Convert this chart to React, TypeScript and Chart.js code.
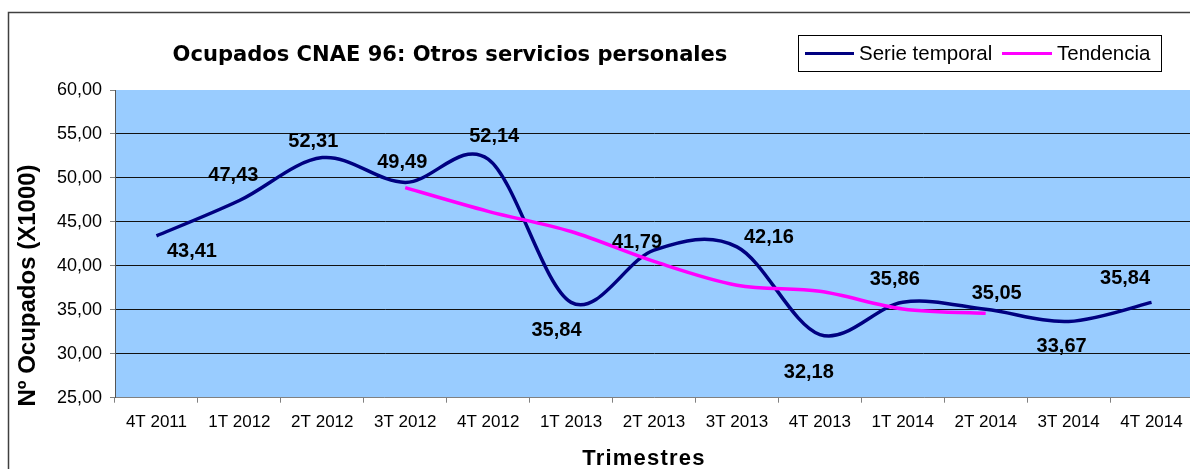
import React, { useEffect, useRef } from 'react';
import { Chart, registerables } from 'chart.js';

Chart.register(...registerables);

// ---- Data ----
const categories = [
  '4T 2011', '1T 2012', '2T 2012', '3T 2012', '4T 2012', '1T 2013', '2T 2013',
  '3T 2013', '4T 2013', '1T 2014', '2T 2014', '3T 2014', '4T 2014',
];
const serieTemporal = [43.41, 47.43, 52.31, 49.49, 52.14, 35.84, 41.79, 42.16, 32.18, 35.86, 35.05, 33.67, 35.84];
const tendencia = [null, null, null, 48.9, 46.2, 43.9, 40.5, 37.8, 37.1, 35.1, 34.6, null, null];
const yMin = 25;
const yMax = 60;
const yStep = 5;
const chartTitle = 'Ocupados CNAE 96: Otros servicios personales';
const yAxisTitle = 'Nº Ocupados (X1000)';
const xAxisTitle = 'Trimestres';
const seriesNames = ['Serie temporal', 'Tendencia'];

// ---- Layout / style (not data) ----
const W = 1194;
const H = 469;
const PLOT_TOP = 90;
const PLOT_LEFT = 115;
const PLOT_BOTTOM = 397.7;
const BLUE = '#000080';
const MAGENTA = '#FF00FF';
const TITLE_WIDTH = 555;
const labelOffsets: [number, number][] = [
  [35.5, 14], [-6, -26.5], [-9, -17.6], [-3, -21.4], [6, -24], [-14.6, 26.4], [-17, -9.3],
  [32, -11], [-11, 36.2], [-8, -24], [11, -17.4], [-7, 23.5], [-26.5, -25.7],
];

const fmt = (v: number) => v.toFixed(2).replace('.', ',');

const smoothPlugin = {
  id: 'excelSmooth',
  beforeDatasetDraw(chart: any, args: any) {
    const meta = args.meta;
    const line = meta.dataset;
    if (!line) return;
    line.updateControlPoints(chart.chartArea, meta.indexAxis);
    const pts = meta.data.filter((p: any) => !p.skip);
    for (let i = 0; i < pts.length; i++) {
      const p = pts[i];
      const prev = pts[i - 1] || p;
      const next = pts[i + 1] || p;
      const dx = (next.x - prev.x) / 6;
      const dy = (next.y - prev.y) / 6;
      p.cp1x = p.x - dx;
      p.cp1y = p.y - dy;
      p.cp2x = p.x + dx;
      p.cp2y = p.y + dy;
    }
  },
};

const decorPlugin = {
  id: 'decor',
  beforeDraw(chart: any) {
    const { ctx, chartArea } = chart;
    ctx.save();
    ctx.fillStyle = '#ffffff';
    ctx.fillRect(0, 0, chart.width, chart.height);
    ctx.fillStyle = '#99CCFF';
    ctx.fillRect(chartArea.left, chartArea.top, chartArea.right - chartArea.left, chartArea.bottom - chartArea.top);
    ctx.restore();
  },
  afterDatasetsDraw(chart: any) {
    const { ctx } = chart;
    const meta = chart.getDatasetMeta(0);
    ctx.save();
    ctx.fillStyle = '#000';
    ctx.font = 'bold 20px "Liberation Sans", Arial, sans-serif';
    ctx.textAlign = 'center';
    ctx.textBaseline = 'alphabetic';
    meta.data.forEach((pt: any, i: number) => {
      const [ox, oy] = labelOffsets[i];
      ctx.fillText(fmt(serieTemporal[i]), pt.x + ox, pt.y + oy + 7);
    });
    ctx.restore();
  },
  afterDraw(chart: any) {
    const { ctx } = chart;
    ctx.save();
    // outer frame (cropped on right and bottom)
    ctx.strokeStyle = '#404040';
    ctx.lineWidth = 1.5;
    ctx.beginPath();
    ctx.moveTo(8.5, H + 10);
    ctx.lineTo(8.5, 12.5);
    ctx.lineTo(W + 10, 12.5);
    ctx.stroke();

    // title
    ctx.fillStyle = '#000';
    ctx.font = 'bold 21px "DejaVu Sans", sans-serif';
    const w0 = ctx.measureText(chartTitle).width || TITLE_WIDTH;
    const size = Math.max(18, Math.min(24, (21 * TITLE_WIDTH) / w0));
    ctx.font = `bold ${size.toFixed(2)}px "DejaVu Sans", sans-serif`;
    ctx.textAlign = 'center';
    ctx.textBaseline = 'alphabetic';
    ctx.fillText(chartTitle, 450, 61);

    // y axis title
    ctx.save();
    ctx.translate(35, 285.5);
    ctx.rotate(-Math.PI / 2);
    ctx.font = 'bold 24px "Liberation Sans", Arial, sans-serif';
    ctx.fillText(yAxisTitle, 0, 0);
    ctx.restore();

    // x axis title
    ctx.save();
    ctx.font = 'bold 22px "Liberation Sans", Arial, sans-serif';
    (ctx as any).letterSpacing = '1.2px';
    ctx.textAlign = 'center';
    ctx.fillText(xAxisTitle, 644, 465);
    ctx.restore();

    // legend
    ctx.strokeStyle = '#000';
    ctx.lineWidth = 1;
    ctx.strokeRect(798.5, 35.5, 363, 36);
    ctx.font = '20.5px "Liberation Sans", Arial, sans-serif';
    ctx.textAlign = 'left';
    const items = [
      { x0: 805, x1: 854, tx: 859, color: chart.data.datasets[0].borderColor, name: seriesNames[0] },
      { x0: 1002, x1: 1052, tx: 1057, color: chart.data.datasets[1].borderColor, name: seriesNames[1] },
    ];
    items.forEach((it) => {
      ctx.strokeStyle = it.color;
      ctx.lineWidth = 3;
      ctx.beginPath();
      ctx.moveTo(it.x0, 53.5);
      ctx.lineTo(it.x1, 53.5);
      ctx.stroke();
      ctx.fillStyle = '#000';
      ctx.fillText(it.name, it.tx, 59.5);
    });
    ctx.restore();
  },
};

export default function App() {
  const ref = useRef<HTMLCanvasElement | null>(null);

  useEffect(() => {
    if (!ref.current) return;
    const chart = new Chart(ref.current, {
      type: 'line',
      data: {
        labels: categories,
        datasets: [
          {
            label: seriesNames[0],
            data: serieTemporal,
            borderColor: BLUE,
            borderWidth: 3.5,
            pointRadius: 0,
            tension: 0.4,
            fill: false,
            order: 1,
          },
          {
            label: seriesNames[1],
            data: tendencia,
            borderColor: MAGENTA,
            borderWidth: 3.5,
            pointRadius: 0,
            tension: 0.4,
            fill: false,
            spanGaps: false,
            order: 0,
          },
        ],
      },
      options: {
        responsive: false,
        animation: false,
        devicePixelRatio: 1,
        events: [],
        layout: { padding: { top: PLOT_TOP, right: 1, left: 0, bottom: 0 } },
        plugins: {
          legend: { display: false },
          title: { display: false },
          tooltip: { enabled: false },
        },
        scales: {
          x: {
            offset: true,
            grid: { offset: true, drawOnChartArea: false, tickLength: 5, tickColor: '#808080' },
            border: { color: '#808080', width: 1 },
            ticks: {
              color: '#000',
              font: { family: '"Liberation Sans", Arial, sans-serif', size: 17 },
              maxRotation: 0,
              autoSkip: false,
              padding: 9,
            },
            afterFit: (s: any) => {
              s.height = H - PLOT_BOTTOM;
            },
          },
          y: {
            min: yMin,
            max: yMax,
            ticks: {
              stepSize: yStep,
              color: '#000',
              font: { family: '"Liberation Sans", Arial, sans-serif', size: 18 },
              padding: 8,
              callback: (v: any) => fmt(Number(v)),
            },
            grid: {
              color: (c: any) => (c.tick && (c.tick.value === yMax || c.tick.value === yMin) ? 'rgba(0,0,0,0)' : '#111'),
              tickColor: '#808080',
              tickLength: 5,
              lineWidth: 1,
            },
            border: { color: '#555', width: 1 },
            afterFit: (s: any) => {
              s.width = PLOT_LEFT;
            },
          },
        },
      },
      plugins: [smoothPlugin, decorPlugin],
    } as any);
    return () => chart.destroy();
  }, []);

  return (
    <div style={{ position: 'absolute', left: 0, top: 0, width: 1190, height: H, overflow: 'hidden', background: '#fff' }}>
      <canvas ref={ref} width={W} height={H} style={{ display: 'block', width: W, height: H }} />
    </div>
  );
}
